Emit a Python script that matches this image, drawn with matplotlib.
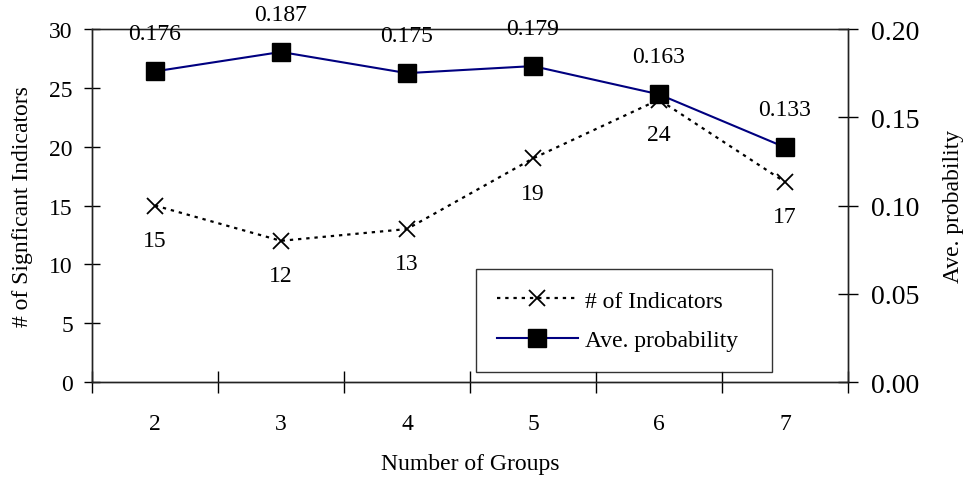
import numpy as np
import matplotlib.pyplot as plt
from matplotlib.ticker import FixedLocator, NullFormatter

plt.rcParams['font.family'] = ['Liberation Serif', 'DejaVu Serif']

# data
groups = ['2', '3', '4', '5', '6', '7']
n_indicators = [15, 12, 13, 19, 24, 17]
ave_prob = [0.176, 0.187, 0.175, 0.179, 0.163, 0.133]

x = np.arange(len(groups))

fig = plt.figure(figsize=(9.65, 4.81), dpi=100)
ax = fig.add_axes([0.0953, 0.2037, 0.7834, 0.7339])
ax2 = ax.twinx()

l1, = ax.plot(x, n_indicators, color='black', linestyle=(0, (1.5, 2.2)), lw=1.6,
              marker='x', markersize=12, markeredgewidth=1.3, label='# of Indicators')
l2, = ax2.plot(x, ave_prob, color='#000080', lw=1.5,
               marker='s', markersize=12.5, markerfacecolor='black',
               markeredgecolor='black', label='Ave. probability')

for xi, v in zip(x, n_indicators):
    ax.annotate(str(v), (xi, v), xytext=(0, -25), textcoords='offset points',
                ha='center', va='center', fontsize=17)
for xi, v in zip(x, ave_prob):
    ax2.annotate('%.3f' % v, (xi, v), xytext=(0, 27), textcoords='offset points',
                 ha='center', va='center', fontsize=17)

ax.set_xlim(-0.5, len(groups) - 0.5)
ax.set_ylim(0, 30)
ax2.set_ylim(0, 0.20)
ax.set_yticks(range(0, 31, 5))
ax2.set_yticks([0.0, 0.05, 0.10, 0.15, 0.20])
ax2.set_yticklabels(['0.00', '0.05', '0.10', '0.15', '0.20'])

# category boundaries as major ticks, labels on minor ticks at centres
ax.xaxis.set_major_locator(FixedLocator(np.arange(-0.5, len(groups), 1.0)))
ax.xaxis.set_major_formatter(NullFormatter())
ax.xaxis.set_minor_locator(FixedLocator(x))
ax.set_xticklabels(groups, minor=True)
ax.tick_params(axis='x', which='major', direction='inout', length=16, width=1)
ax.tick_params(axis='x', which='minor', length=0, pad=22, labelsize=17)
ax.tick_params(axis='y', direction='inout', length=11.5, width=1, labelsize=17, pad=8)
ax2.tick_params(axis='y', direction='inout', length=15, width=1, labelsize=20, pad=9)

for a in (ax, ax2):
    for s in a.spines.values():
        s.set_linewidth(1.0)
        s.set_color('#222222')
ax.spines['top'].set_color('#777777')

ax.set_xlabel('Number of Groups', fontsize=17, labelpad=14)
ax.set_ylabel('# of Signficant Indicators', fontsize=17, labelpad=12)
ax2.set_ylabel('Ave. probability', fontsize=17, labelpad=17)

leg = ax2.legend(handles=[l1, l2], loc='lower left', bbox_to_anchor=(0.508, 0.028, 0.392, 0.286),
                 mode='expand', fontsize=17, frameon=True, fancybox=False, borderaxespad=0,
                 edgecolor='black', handlelength=3.4, borderpad=0.9, labelspacing=0.75,
                 handletextpad=0.3)
leg.get_frame().set_linewidth(1.0)

fig.savefig('out.png', dpi=100)
